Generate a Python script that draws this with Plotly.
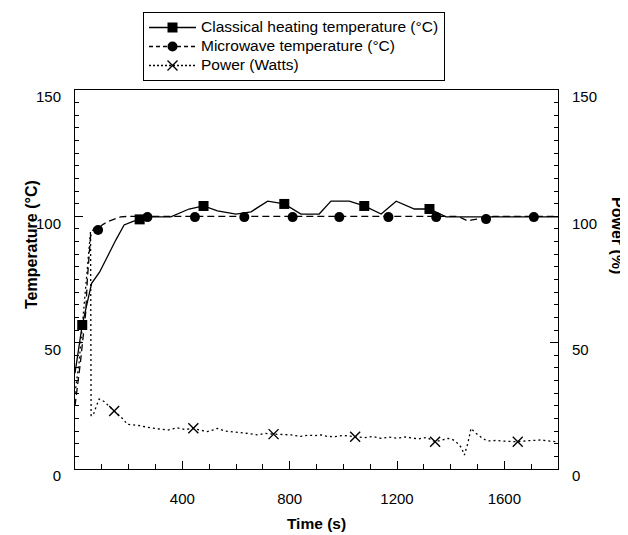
import plotly.graph_objects as go

# ---------------- data ----------------
classical_t = [0, 27, 62, 92, 152, 183, 214, 241, 270, 357, 425, 479, 531, 600, 656, 718, 780,
               842, 910, 954, 1022, 1078, 1141, 1197, 1265, 1321, 1383, 1800]
classical_T = [37.9, 57, 73.5, 78, 90.6, 96.6, 97.9, 98.8, 99.8, 99.8, 102.9, 104.1, 102.2, 100.9,
               101.8, 106, 104.9, 100.9, 100.9, 106, 106, 104.1, 100.9, 106, 102.9, 102.9, 99.8, 99.8]
classical_marker_t = [27, 241, 479, 780, 1078, 1321]
classical_marker_T = [57, 98.8, 104.1, 104.9, 104.1, 102.9]

microwave_t = [0, 10, 20, 30, 40, 46, 52, 58, 62, 71, 86, 100, 121, 150, 170, 200, 250, 400, 800,
               1200, 1420, 1440, 1464, 1480, 1501, 1532, 1560, 1800]
microwave_T = [25, 33, 42, 52, 62, 75, 84, 92, 93.5, 95.3, 94.6, 96.5, 97.9, 99.2, 99.8, 100, 100,
               100, 100, 100, 100, 99.4, 98.1, 98.6, 99.0, 99.3, 100, 100]
microwave_marker_t = [86, 270, 447, 631, 811, 985, 1168, 1346, 1532, 1710]
microwave_marker_T = [94.6, 99.7, 99.7, 99.7, 99.7, 99.7, 99.7, 99.7, 98.9, 99.7]

power_t = [0, 15, 30, 45, 55, 58, 60, 70, 80, 90, 100, 110, 125, 146, 160, 177, 195, 215, 245,
           270, 307, 330, 345, 365, 382, 410, 441, 470, 494, 515, 531, 560, 581, 620, 650, 680,
           710, 740, 775, 805, 840, 870, 892, 917, 940, 966, 1000, 1044, 1080, 1110, 1141, 1170,
           1200, 1230, 1253, 1280, 1310, 1342, 1370, 1389, 1405, 1420, 1440, 1451, 1464, 1476,
           1490, 1501, 1520, 1538, 1570, 1600, 1650, 1690, 1737, 1770, 1800]
power_P = [30, 42, 60, 80, 92, 94, 21, 22, 25, 27.7, 27.2, 26.6, 25, 23, 21.5, 20, 17.7, 17.5,
           17.1, 16.5, 16.1, 15.8, 15.4, 15.9, 16.3, 15.6, 16.1, 15.3, 14.8, 15.5, 16.1, 15.0,
           14.8, 14.3, 14.0, 13.5, 14.1, 13.8, 13.6, 13.5, 12.9, 13.4, 13.2, 13.5, 12.9, 12.8,
           13.3, 12.8, 12.4, 12.9, 12.1, 12.6, 12.2, 12.7, 12.4, 11.9, 12.5, 10.8, 11.5, 12.1,
           11.8, 10.8, 8.5, 5.5, 10.2, 16.1, 14.5, 13.5, 12.0, 11.1, 11.3, 11.0, 10.8, 11.2,
           11.5, 11.0, 10.8]
power_marker_t = [146, 441, 740, 1044, 1342, 1650]
power_marker_P = [23, 16.1, 13.8, 12.8, 10.8, 10.8]

x_tick_vals = [400, 800, 1200, 1600]
y_tick_vals = [0, 50, 100, 150]

series_names = ["Classical heating temperature (°C)", "Microwave temperature (°C)", "Power (Watts)"]

# ---------------- figure ----------------
FONT = "Liberation Sans, Arial, Helvetica, sans-serif"
W, H = 620, 527          # page body has an 8px margin
ML, MR, MT, MB = 67, 70, 82, 66
OFF = 8
PW, PH = W - ML - MR, H - MT - MB


def px_x(page_x):
    return (page_x - OFF - ML) / PW


def px_y(page_y):
    return (H - MB + OFF - page_y) / PH


fig = go.Figure()

# lines
fig.add_trace(go.Scatter(x=classical_t, y=classical_T, mode="lines",
                         line=dict(color="black", width=1.3), showlegend=False, hoverinfo="skip"))
fig.add_trace(go.Scatter(x=microwave_t, y=microwave_T, mode="lines",
                         line=dict(color="black", width=1.3, dash="7px,4px"), showlegend=False,
                         hoverinfo="skip"))
fig.add_trace(go.Scatter(x=power_t, y=power_P, mode="lines", yaxis="y2",
                         line=dict(color="black", width=1.3, dash="2px,3px"), showlegend=False,
                         hoverinfo="skip"))
# markers
fig.add_trace(go.Scatter(x=classical_marker_t, y=classical_marker_T, mode="markers",
                         marker=dict(symbol="square", size=10, color="black"), showlegend=False))
fig.add_trace(go.Scatter(x=microwave_marker_t, y=microwave_marker_T, mode="markers",
                         marker=dict(symbol="circle", size=10, color="black"), showlegend=False))
fig.add_trace(go.Scatter(x=power_marker_t, y=power_marker_P, mode="markers", yaxis="y2",
                         marker=dict(symbol="x-thin", size=10, color="black",
                                     line=dict(color="black", width=1.4)), showlegend=False))


def legend_name(s):
    return '<span style="font-size:15.5px">' + s + '</span>'


# legend entries
fig.add_trace(go.Scatter(x=[None], y=[None], mode="lines+markers", name=legend_name(series_names[0]),
                         line=dict(color="black", width=1.3),
                         marker=dict(symbol="square", size=10, color="black")))
fig.add_trace(go.Scatter(x=[None], y=[None], mode="lines+markers", name=legend_name(series_names[1]),
                         line=dict(color="black", width=1.3, dash="4px,3px"),
                         marker=dict(symbol="circle", size=10, color="black")))
fig.add_trace(go.Scatter(x=[None], y=[None], mode="lines+markers", name=legend_name(series_names[2]),
                         line=dict(color="black", width=1.3, dash="2px,2px"),
                         marker=dict(symbol="x-thin", size=10, color="black",
                                     line=dict(color="black", width=1.4))))

axis_common = dict(showgrid=False, zeroline=False, showline=True, linecolor="black", linewidth=1,
                   ticks="inside", tickcolor="black", tickfont=dict(family=FONT, size=15, color="black"))

# legend box geometry (page px) used for its drop shadow
LEG_L, LEG_T, LEG_R, LEG_B = 143, 12, 442, 77
SH = 3

fig.update_layout(
    width=W, height=H,
    margin=dict(l=ML, r=MR, t=MT, b=MB, autoexpand=False),
    paper_bgcolor="white", plot_bgcolor="white",
    font=dict(family=FONT, color="black"),
    xaxis=dict(range=[0, 1800], tickvals=x_tick_vals, ticklen=8, mirror=True,
               minor=dict(dtick=100, tick0=0, ticks="inside", ticklen=5, tickcolor="black"),
               ticklabelstandoff=16,
               title=dict(text="<b>Time (s)</b>", font=dict(family=FONT, size=15.5), standoff=12),
               **axis_common),
    yaxis=dict(range=[0, 150], tickvals=y_tick_vals, ticklen=8,
               minor=dict(dtick=5, tick0=0, ticks="inside", ticklen=4, tickcolor="black"),
               ticklabelshift=7, ticklabelstandoff=10,
               **axis_common),
    yaxis2=dict(range=[0, 150], tickvals=y_tick_vals, ticklen=8, overlaying="y", side="right",
                minor=dict(dtick=5, tick0=0, ticks="inside", ticklen=4, tickcolor="black"),
                ticklabelshift=7, ticklabelstandoff=10,
                **axis_common),
    legend=dict(x=px_x(LEG_L), y=px_y(LEG_T), xanchor="left", yanchor="top", itemwidth=47,
                bgcolor="white", bordercolor="black", borderwidth=1,
                font=dict(family=FONT, size=10.5, color="black"), tracegroupgap=0),
    shapes=[
        dict(type="rect", xref="paper", yref="paper", layer="above",
             x0=px_x(LEG_L + SH), x1=px_x(LEG_R + SH), y0=px_y(LEG_B + SH), y1=px_y(LEG_T + SH),
             fillcolor="black", line=dict(width=0)),
    ],
    annotations=[
        dict(text="<b>Temperature (°C)</b>", xref="paper", yref="paper",
             x=px_x(31), y=px_y(245), xanchor="center", yanchor="middle",
             textangle=-90, showarrow=False, font=dict(family=FONT, size=16, color="black")),
        dict(text="<b>Power (%)</b>", xref="paper", yref="paper",
             x=px_x(617), y=px_y(235), xanchor="center", yanchor="middle",
             textangle=90, showarrow=False, font=dict(family=FONT, size=16, color="black")),
    ],
)

fig.write_html("out.html")
